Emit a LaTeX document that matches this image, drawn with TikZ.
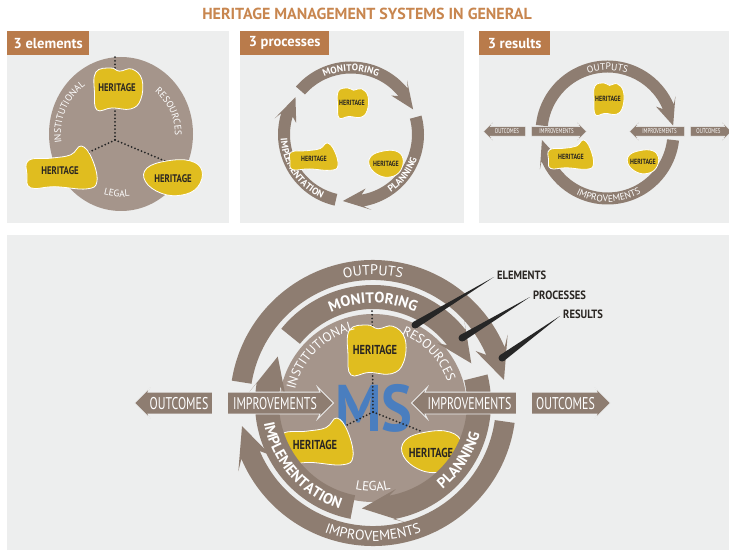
\documentclass[tikz,border=0pt]{standalone}
\usepackage{fontspec}
\setmainfont{PT Sans}
\newfontfamily\narrowfont[FakeStretch=0.7]{PT Sans}
\newfontfamily\herfont[FakeStretch=0.8]{PT Sans}
\newfontfamily\spacedfont[LetterSpace=10]{PT Sans}
\newfontfamily\labfont[FakeStretch=0.88]{PT Sans}
\usepackage{tikz}
\usetikzlibrary{shapes.arrows,decorations.text,calc}
\usetikzlibrary{positioning}

\definecolor{panelbg}{HTML}{EDEEEE}
\definecolor{ringbrown}{HTML}{8E7D71}
\definecolor{discbrown}{HTML}{A5958B}
\definecolor{heryellow}{HTML}{E0BD1F}
\definecolor{titlebrown}{HTML}{C8864F}
\definecolor{tagbrown}{HTML}{B97B4B}
\definecolor{msblue}{HTML}{4A7EBF}
\definecolor{herdark}{HTML}{2A2622}

\tikzstyle{panel} = [fill=panelbg]
\tikzstyle{title} = [text=titlebrown, font=\bfseries\fontsize{16}{16}\selectfont]
\tikzstyle{tagbox} = [
	fill=tagbrown,
	text=white,
	font=\bfseries\fontsize{14.5}{15}\selectfont,
	anchor=north west,
	minimum height=24pt,
	inner xsep=3pt
]
\tikzstyle{ringfill} = [fill=ringbrown]
\tikzstyle{blobfill} = [fill=heryellow, draw=white, line width=0.8pt]
\tikzstyle{dots} = [line width=2pt, line cap=round, dash pattern=on 0pt off 3.6pt, black!85]
\tikzstyle{herbig} = [text=herdark, inner sep=0pt, font=\herfont\bfseries\fontsize{13}{13}\selectfont]
\tikzstyle{hermid} = [text=herdark, inner sep=0pt, font=\herfont\bfseries\fontsize{11}{11}\selectfont]
\tikzstyle{hersmall} = [text=herdark, inner sep=0pt, font=\herfont\bfseries\fontsize{7.5}{7.5}\selectfont]
\tikzstyle{bandarrow} = [
	single arrow,
	fill=ringbrown,
	draw=panelbg,
	text=white,
	single arrow head indent=2.5pt,
	inner xsep=2pt
]
\tikzstyle{bigband} = [bandarrow, line width=0.8pt, font=\narrowfont\fontsize{17}{17}\selectfont,
	text height=12pt, text depth=0pt, inner ysep=4.5pt, single arrow head extend=5pt]
\tikzstyle{smallband} = [bandarrow, line width=0.5pt, font=\narrowfont\fontsize{7}{7}\selectfont,
	text height=5pt, text depth=0pt, inner ysep=2pt, single arrow head extend=4.5pt]
\tikzstyle{pointlabel} = [anchor=west, inner sep=0pt, text=herdark, font=\labfont\bfseries\fontsize{12}{12}\selectfont]

% ring arrow: radius, band width, from angle, tip angle, head length (deg), head width
\newcommand{\ringarrow}[6]{%
	\pgfmathsetmacro{\raDir}{ifthenelse(#4>#3,1,-1)}
	\pgfmathsetmacro{\raBase}{#4-\raDir*#5}
	\pgfmathsetmacro{\raBarb}{#4-\raDir*1.3*#5}
	\pgfmathsetmacro{\raOut}{#1+#2/2}
	\pgfmathsetmacro{\raIn}{#1-#2/2}
	\pgfmathsetmacro{\raHout}{#1+#6/2}
	\pgfmathsetmacro{\raHin}{#1-#6/2}
	\fill[ringfill] (#3:\raOut) arc[start angle=#3, end angle=\raBase, radius=\raOut]
		-- (\raBarb:\raHout) -- (#4:#1) -- (\raBarb:\raHin) -- (\raBase:\raIn)
		arc[start angle=\raBase, end angle=#3, radius=\raIn] -- cycle;
}
% text on an arc: font, radius, from, to, text
\newcommand{\arctext}[5]{%
	\path[decorate, decoration={text along path, text align=center, text color=white,
		text={|#1|#5}}] (#3:#2) arc[start angle=#3, end angle=#4, radius=#2];
}
% heritage blobs: centre x, centre y, half width, half height
\newcommand{\blobTop}[4]{%
	\fill[blobfill, shift={(#1,#2)}, xscale=#3, yscale=#4] plot[smooth cycle, tension=0.7] coordinates
		{(-0.85,0.8) (-0.25,1) (0.1,0.85) (0.6,0.95) (1,0.45) (0.95,-0.5) (0.55,-0.95) (-0.2,-0.9) (-0.8,-1) (-0.9,-0.2)};
}
\newcommand{\blobLeft}[4]{%
	\fill[blobfill, shift={(#1,#2)}, xscale=#3, yscale=#4] plot[smooth cycle, tension=0.7] coordinates
		{(-0.95,0.35) (-0.3,0.45) (0.25,0.6) (0.55,1) (0.85,0.45) (1,-0.6) (0.7,-0.95) (-0.2,-0.85) (-0.9,-0.9) (-1,-0.3)};
}
\newcommand{\blobRight}[4]{%
	\fill[blobfill, shift={(#1,#2)}, xscale=#3, yscale=#4] plot[smooth cycle, tension=0.7] coordinates
		{(-0.9,0.55) (-0.2,0.95) (0.6,0.95) (1,0.4) (0.85,-0.5) (0.3,-0.95) (-0.4,-0.85) (-0.95,-0.2)};
}

\begin{document}
\begin{tikzpicture}[x=1pt, y=1pt]
	\fill[white] (0,0) rectangle (729,550);
	\useasboundingbox (0,0) rectangle (729,550);

	\node[title] (title) at (367,536) {HERITAGE MANAGEMENT SYSTEMS IN GENERAL};

	% 3 elements
	\fill[panel] (7,327) rectangle (229,519);
	\node[tagbox, minimum width=82pt] (tagElem) at (7,519) {3 elements};
	\fill[fill=discbrown] (121,416) ellipse [x radius=72, y radius=77];
	\coordinate (eJoin) at (115,410);
	\coordinate (eTop) at (115,493);
	\coordinate (eLeft) at (85,396);
	\coordinate (eRight) at (165,389);
	\draw[dots] (eJoin) -- (eTop);
	\draw[dots] (eJoin) -- (eLeft);
	\draw[dots] (eJoin) -- (eRight);
	\blobTop{117}{461}{25}{21}
	\blobLeft{62}{382}{35}{22}
	\blobRight{173}{372}{29}{18}
	\node[hermid] (herE1) at (117,462) {HERITAGE};
	\node[hermid] (herE2) at (60,379) {HERITAGE};
	\node[hermid] (herE3) at (173,371) {HERITAGE};
	\begin{scope}[shift={(121,416)}]
		\arctext{\fontsize{9.5}{9.5}\selectfont}{60}{205}{110}{INSTITUTIONAL}
		\arctext{\fontsize{9.5}{9.5}\selectfont}{54}{65}{-15}{RESOURCES}
		\arctext{\fontsize{9.5}{9.5}\selectfont}{63}{245}{287}{LEGAL}
	\end{scope}

	% 3 processes
	\fill[panel] (240,327) rectangle (464,519);
	\node[tagbox, minimum width=89pt] (tagProc) at (240,519) {3 processes};
	\begin{scope}[shift={(351,415.5)}]
		\ringarrow{67}{12}{139}{22}{17}{22}
		\ringarrow{67}{12}{15}{-97}{17}{22}
		\ringarrow{67}{12}{-103}{-214}{17}{22}
		\arctext{\bfseries\fontsize{9.5}{9.5}\selectfont}{63.5}{130}{50}{MONITORING}
		\arctext{\bfseries\fontsize{9.5}{9.5}\selectfont}{70.5}{-70}{-6}{PLANNING}
		\arctext{\bfseries\fontsize{9.5}{9.5}\selectfont}{70.5}{168}{261}{IMPLEMENTATION}
	\end{scope}
	\blobTop{352}{447}{16}{15}
	\blobLeft{314}{393}{24}{14}
	\blobRight{386}{386}{17}{13.5}
	\node[hersmall] (herP1) at (352,447) {HERITAGE};
	\node[hersmall] (herP2) at (314,391) {HERITAGE};
	\node[hersmall] (herP3) at (386,386) {HERITAGE};

	% 3 results
	\fill[panel] (479,327) rectangle (729,519);
	\node[tagbox, minimum width=71pt] (tagRes) at (479,519) {3 results};
	\begin{scope}[shift={(607.5,417.5)}]
		\ringarrow{66}{12}{174}{6}{17}{22}
		\ringarrow{66}{12}{-6.5}{-173.5}{17}{22}
		\arctext{\spacedfont\fontsize{9.5}{9.5}\selectfont}{62.5}{125}{55}{OUTPUTS}
		\arctext{\spacedfont\fontsize{9.5}{9.5}\selectfont}{69.5}{222}{320}{IMPROVEMENTS}
	\end{scope}
	\node[smallband, shape border rotate=180, minimum height=42pt] (outL3) at (507,418.5) {OUTCOMES};
	\node[smallband, minimum height=55pt] (impL3) at (556.5,418.5) {IMPROVEMENTS};
	\node[smallband, shape border rotate=180, minimum height=55pt] (impR3) at (659.5,418.5) {IMPROVEMENTS};
	\node[smallband, minimum height=41pt] (outR3) at (708.5,418.5) {OUTCOMES};
	\blobTop{608}{451}{15.5}{16}
	\blobLeft{571}{395}{22.5}{15}
	\blobRight{643}{388}{15.5}{12}
	\node[hersmall] (herR1) at (608,451) {HERITAGE};
	\node[hersmall] (herR2) at (571,393) {HERITAGE};
	\node[hersmall] (herR3) at (643,388) {HERITAGE};

	% management system
	\fill[panel] (7,0) rectangle (729,315);
	\fill[fill=discbrown] (373,142) circle (94);
	\node[text=msblue, inner sep=0pt, font=\labfont\bfseries\fontsize{66}{66}\selectfont] (ms) at (374,141.5) {MS};
	\coordinate (mJoin) at (373,138);
	\coordinate (mTop) at (372,243);
	\coordinate (mLeft) at (343,123);
	\coordinate (mRight) at (423,118);
	\draw[dots] (mJoin) -- (mTop);
	\draw[dots] (mJoin) -- (mLeft);
	\draw[dots] (mJoin) -- (mRight);
	\blobTop{375}{200}{30}{25}
	\blobLeft{317}{108}{36}{24}
	\blobRight{432}{98}{30}{21}
	\node[herbig] (herM1) at (375,200) {HERITAGE};
	\node[herbig] (herM2) at (315,105) {HERITAGE};
	\node[herbig] (herM3) at (431,97) {HERITAGE};
	\begin{scope}[shift={(373,142)}]
		\arctext{\fontsize{13}{13}\selectfont}{80}{178}{92}{INSTITUTIONAL}
		\arctext{\fontsize{13}{13}\selectfont}{79}{86}{2}{RESOURCES}
		\arctext{\fontsize{13}{13}\selectfont}{83}{250}{290}{LEGAL}
	\end{scope}
	\begin{scope}[shift={(373,147)}]
		\ringarrow{133}{20}{171}{10}{13}{36}
		\ringarrow{133}{20}{-8}{-170}{13}{36}
		\ringarrow{106}{24}{141}{22}{16}{36}
		\ringarrow{106}{24}{14}{-96}{16}{34}
		\ringarrow{106}{24}{-101}{-206}{16}{36}
		\arctext{\spacedfont\fontsize{14}{14}\selectfont}{128}{135}{45}{OUTPUTS}
		\arctext{\spacedfont\fontsize{14}{14}\selectfont}{138}{220}{320}{IMPROVEMENTS}
		\arctext{\bfseries\fontsize{15}{15}\selectfont}{100}{140}{40}{MONITORING}
		\arctext{\bfseries\fontsize{15}{15}\selectfont}{111}{-68}{1}{PLANNING}
		\arctext{\bfseries\fontsize{15}{15}\selectfont}{111}{176}{267}{IMPLEMENTATION}
	\end{scope}

	\node[bigband, shape border rotate=180, minimum height=78pt] (outL) at (179,147) {OUTCOMES};
	\node[bigband, minimum height=106pt] (impL) at (275,147) {IMPROVEMENTS};
	\node[bigband, shape border rotate=180, minimum height=105pt] (impR) at (469.5,147) {IMPROVEMENTS};
	\node[bigband, minimum height=79pt] (outR) at (565.5,147) {OUTCOMES};

	% pointers
	\node[pointlabel] (elements) at (497,275) {ELEMENTS};
	\node[pointlabel] (processes) at (533,255) {PROCESSES};
	\node[pointlabel] (results) at (563,236) {RESULTS};
	\coordinate (elemTip) at (415,225);
	\coordinate (procTip) at (462,212);
	\coordinate (resTip) at (502,192);
	\foreach \lab/\tip in {elements/elemTip, processes/procTip, results/resTip} {
		\fill[black!85] ($(\lab.west)+(-3,-2)$) -- ($(\tip)!3.5pt!90:(\lab.west)$) -- ($(\tip)!3.5pt!-90:(\lab.west)$) -- cycle;
		\fill[black!85] (\tip) circle (3.5);
	}
\end{tikzpicture}
\end{document}
